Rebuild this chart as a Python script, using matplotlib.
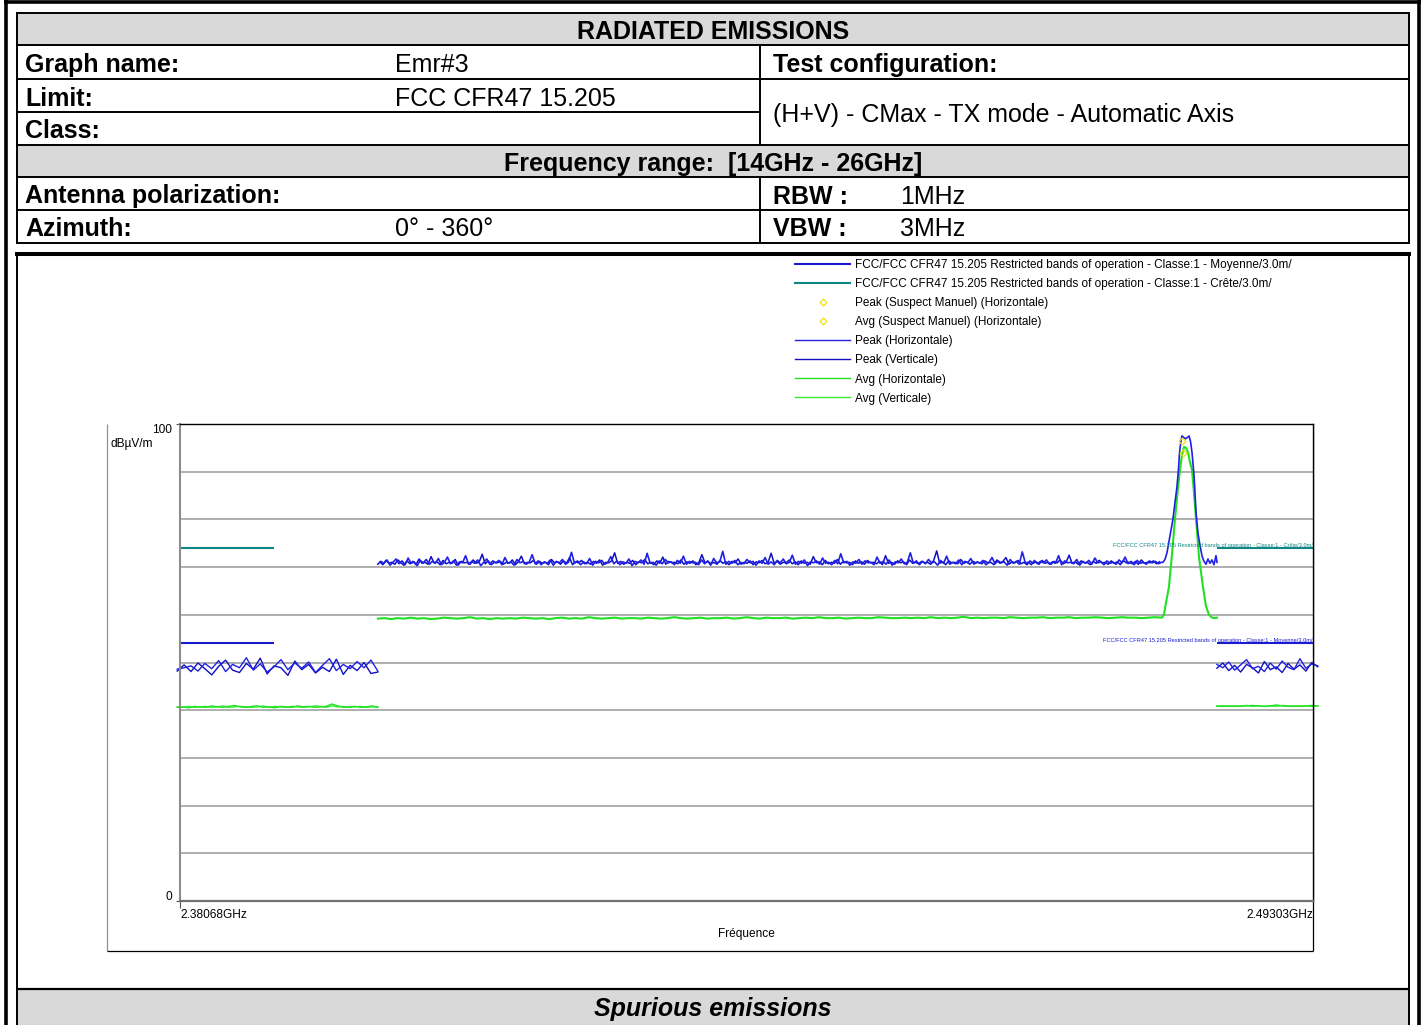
import numpy as np
import matplotlib.pyplot as plt
from matplotlib.patches import Rectangle
from matplotlib.lines import Line2D

plt.rcParams['font.family'] = ['Liberation Sans', 'DejaVu Sans']

# ---------------- data (frequency in GHz, level in dBµV/m) ----------------
f_min, f_max = 2.38068, 2.49303
limit_bands = [(2.38068, 2.39), (2.4835, 2.49303)]
limit_peak = 74.0   # Crête
limit_avg = 54.0    # Moyenne

# lower band edge sweep 2.3804 - 2.4003 GHz
left_span = (2.3804, 2.4003)
peak_h_left = [48.6, 48.9, 49.3, 48.2, 49.8, 48.7, 50.4, 48.1, 49.6, 48.9, 51.0, 48.4, 49.7, 48.0, 49.1,
               50.6, 48.5, 49.9, 48.8, 50.1, 47.9, 49.4, 50.8, 48.3, 49.6, 48.7, 50.2, 48.9, 50.5, 48.2]
peak_v_left = [48.2, 49.5, 48.1, 49.9, 48.7, 47.4, 49.2, 50.5, 48.4, 47.9, 49.8, 48.6, 50.9, 47.6, 49.3,
               48.9, 47.3, 50.3, 48.5, 49.6, 47.8, 49.0, 48.1, 50.7, 47.5, 49.4, 48.3, 50.0, 47.7, 48.0]
avg_h_left = [40.6, 40.7, 40.5, 40.8, 40.7, 40.6, 40.9, 40.7, 40.6, 40.8, 41.0, 40.7, 40.6, 40.8, 40.9, 40.6,
              40.7, 40.5, 40.8, 40.7, 40.6, 40.9, 40.7, 40.8, 40.6, 40.7, 40.8, 41.3, 40.9, 40.6, 40.7, 40.8,
              40.6, 40.7, 40.9, 40.6]
avg_v_left = [40.7, 40.6, 40.8, 40.6, 40.7, 40.8, 40.6, 40.7, 40.9, 40.6, 40.7, 40.8, 40.7, 40.6, 40.7, 40.9,
              40.6, 40.8, 40.7, 40.6, 40.8, 40.7, 40.6, 40.7, 40.9, 40.8, 40.6, 40.9, 40.7, 40.8, 40.6, 40.7,
              40.8, 40.6, 40.7, 40.7]

# in-band sweep 2.4003 - 2.4780 GHz (noise floor before the carrier)
mid_span_h = (2.4003, 2.4780)
mid_span_v = (2.4005, 2.4778)
peak_h_mid = [
    70.6, 71.2, 70.8, 71.5, 70.4, 71.0, 71.7, 70.7, 71.3, 70.5, 71.9, 70.8, 71.1, 70.3, 71.4, 70.9, 71.6, 70.6, 71.2, 70.8,
    71.8, 70.5, 71.0, 72.1, 70.7, 71.3, 70.4, 71.1, 70.9, 72.4, 70.6, 71.2, 70.8, 71.5, 70.3, 71.0, 71.7, 70.6, 71.3, 70.9,
    71.4, 70.5, 72.0, 70.8, 71.1, 70.4, 71.6, 70.9, 71.2, 70.6, 71.0, 72.6, 70.7, 71.3, 70.5, 71.1, 70.8, 71.5, 70.4, 71.2,
    70.9, 71.6, 70.6, 71.0, 73.1, 70.8, 71.3, 70.5, 71.1, 70.7, 71.8, 70.4, 71.2, 70.9, 71.4, 70.6, 71.0, 72.2, 70.7, 71.3,
    70.5, 71.1, 70.8, 71.7, 70.3, 71.2, 70.9, 71.5, 70.6, 72.9, 70.8, 71.0, 70.4, 71.3, 70.7, 71.6, 70.9, 71.1, 70.5, 71.4,
    70.8, 72.3, 70.6, 71.2, 70.9, 71.0, 70.5, 71.5, 70.7, 71.3, 70.4, 71.8, 70.9, 71.1, 73.3, 70.6, 71.2, 70.8, 71.4, 70.5,
    71.0, 70.7, 71.6, 70.9, 71.2, 70.4, 71.3, 70.8, 72.0, 70.6, 71.1, 70.5, 71.4, 70.9, 71.7, 70.7, 71.0, 72.5, 70.6, 71.2,
    70.8, 71.5, 70.3, 71.1, 70.9, 71.3, 70.6, 71.9, 70.8, 71.0, 70.5, 71.4, 70.7, 72.8, 70.9, 71.2, 70.4, 71.1, 70.8, 71.6,
    70.6, 71.3, 70.9, 71.0, 70.5, 72.1, 70.8, 71.2, 70.6, 71.5, 70.4, 71.1, 70.9, 71.7, 70.7, 71.0, 73.0, 70.8, 71.3, 70.5,
    71.2, 70.7, 71.6, 70.9, 71.1, 70.4, 71.4, 70.8, 72.3, 70.6, 71.0, 70.7, 71.5, 70.5, 71.2, 70.9, 71.8, 70.6, 71.1, 70.8,
    71.4, 70.5, 71.0, 72.0, 70.7, 71.3, 70.9, 71.1, 70.4, 71.6, 70.8, 71.2, 70.6, 73.2, 70.9, 71.0, 70.5, 71.4, 70.7, 71.2,
    70.9, 71.5, 70.6, 71.1, 70.8, 72.4, 70.5, 71.3, 70.9, 71.0, 70.7, 71.6, 70.4, 71.2, 70.8, 71.4, 70.6, 71.9, 70.9, 71.1,
    70.5, 71.3, 70.8, 71.0, 70.6, 71.5, 70.9, 72.1, 70.7, 71.2, 70.5, 71.4, 70.8, 71.0, 70.6, 71.3, 70.9, 71.2, 70.7, 71.0]
peak_v_mid = [
    71.1, 70.5, 71.4, 70.8, 71.0, 70.6, 71.5, 70.9, 70.4, 71.3, 70.7, 71.2, 70.5, 71.7, 70.8, 71.0, 70.6, 72.2, 70.9, 71.1,
    70.5, 71.4, 70.7, 71.0, 70.8, 71.6, 70.4, 71.2, 70.9, 71.0, 70.6, 71.5, 70.8, 71.1, 72.7, 70.7, 71.3, 70.5, 71.0, 70.9,
    71.2, 70.6, 71.0, 70.8, 71.5, 70.5, 71.1, 72.3, 70.7, 71.0, 70.9, 71.4, 70.6, 71.2, 70.8, 71.0, 70.5, 71.6, 70.9, 71.1,
    70.6, 71.3, 70.8, 72.0, 70.5, 71.1, 70.9, 71.4, 70.7, 71.0, 70.6, 71.2, 70.8, 71.5, 70.4, 71.0, 70.9, 71.3, 73.0, 70.8,
    71.2, 70.6, 71.0, 70.8, 71.4, 70.5, 71.1, 70.9, 71.6, 70.7, 71.0, 70.5, 71.3, 70.8, 72.1, 70.6, 71.2, 70.9, 71.0, 70.7,
    71.5, 70.6, 71.1, 70.8, 71.3, 70.5, 71.0, 72.6, 70.9, 71.2, 70.7, 71.0, 70.6, 71.4, 70.8, 71.1, 70.5, 71.2, 70.9, 71.7,
    70.6, 71.0, 70.8, 71.3, 70.5, 71.1, 70.9, 71.4, 70.7, 71.0, 72.9, 70.8, 71.2, 70.6, 71.0, 70.9, 71.5, 70.7, 71.1, 70.5,
    71.3, 70.8, 71.0, 70.6, 72.2, 70.9, 71.1, 70.5, 71.4, 70.7, 71.0, 70.8, 71.6, 70.6, 71.2, 70.9, 71.0, 70.5, 71.3, 70.8,
    71.1, 70.6, 71.4, 70.9, 71.0, 70.7, 71.2, 70.5, 72.4, 70.8, 71.0, 70.6, 71.3, 70.9, 71.1, 70.5, 71.5, 70.8, 71.0, 70.7,
    71.2, 70.9, 71.0, 70.6, 71.4, 73.4, 70.8, 71.1, 70.5, 71.3, 70.9, 71.0, 70.7, 71.6, 70.8, 71.1, 70.6, 71.2, 70.9, 71.0,
    70.7, 71.3, 70.9, 71.0, 70.5, 71.5, 70.8, 71.2, 72.0, 70.6, 71.1, 70.9, 71.4, 70.7, 71.0, 70.5, 71.3, 70.8, 71.1, 70.6,
    71.4, 70.8, 71.0, 70.6, 71.2, 70.9, 71.5, 70.7, 71.0, 72.5, 70.8, 71.1, 70.6, 71.3, 70.9, 71.0, 70.5, 71.2, 70.8, 71.4,
    70.9, 71.0, 70.6, 71.3, 70.8, 71.1, 70.5, 71.4, 70.9, 71.0, 70.7, 71.2, 70.6, 71.5, 70.8, 71.0, 70.9, 71.3, 70.7, 71.1]
avg_mid = [
    59.2, 59.3, 59.1, 59.3, 59.2, 59.4, 59.2, 59.3, 59.1, 59.2, 59.4, 59.3, 59.2, 59.3, 59.5, 59.2, 59.3, 59.1, 59.3, 59.2,
    59.3, 59.2, 59.4, 59.3, 59.2, 59.3, 59.1, 59.3, 59.4, 59.2, 59.3, 59.2, 59.5, 59.3, 59.2, 59.3, 59.4, 59.2, 59.3, 59.3,
    59.2, 59.4, 59.3, 59.2, 59.3, 59.5, 59.3, 59.2, 59.3, 59.4, 59.2, 59.3, 59.3, 59.4, 59.2, 59.3, 59.5, 59.3, 59.2, 59.4,
    59.3, 59.3, 59.4, 59.2, 59.3, 59.4, 59.3, 59.5, 59.3, 59.3, 59.4, 59.2, 59.3, 59.4, 59.3, 59.3, 59.5, 59.4, 59.3, 59.3,
    59.4, 59.3, 59.4, 59.3, 59.5, 59.3, 59.4, 59.3, 59.4, 59.6, 59.3, 59.4, 59.3, 59.4, 59.4, 59.3, 59.5, 59.4, 59.3, 59.4,
    59.4, 59.5, 59.3, 59.4, 59.4, 59.5, 59.3, 59.4, 59.4, 59.5, 59.4, 59.3, 59.4, 59.5, 59.4, 59.4, 59.3, 59.4, 59.5, 59.4]

# carrier around 2.480 GHz and end of the in-band sweep
f_carrier_peak = [2.47815, 2.47835, 2.47855, 2.47885, 2.47914, 2.47934, 2.47954, 2.47969, 2.47979, 2.47994,
                  2.48004, 2.48019, 2.48039, 2.48059, 2.48074, 2.48089, 2.48104, 2.48124, 2.48143, 2.48163,
                  2.48183, 2.48203, 2.48222, 2.48242, 2.48261, 2.48281, 2.48301, 2.48321, 2.48341, 2.48351]
peak_carrier = [71.0, 71.6, 73.0, 76.5, 80.0, 83.5, 86.8, 90.5, 93.9, 96.5,
                97.5, 97.2, 96.9, 97.2, 97.5, 96.3, 93.9, 89.0, 81.5, 77.0,
                74.5, 72.3, 71.2, 70.6, 71.7, 70.8, 71.5, 70.5, 72.4, 71.0]
f_carrier_avg = [2.47805, 2.47825, 2.47845, 2.47875, 2.47904, 2.47934, 2.47964, 2.47984, 2.48004, 2.48024,
                 2.48044, 2.48064, 2.48083, 2.48103, 2.48123, 2.48143, 2.48173, 2.48212, 2.48242, 2.48272,
                 2.48302, 2.48331, 2.48351]
avg_carrier = [59.4, 60.0, 62.5, 65.9, 72.5, 80.0, 86.5, 90.4, 93.5, 95.2,
               95.0, 94.0, 92.0, 90.4, 85.5, 80.0, 72.0, 65.9, 61.8, 60.0,
               59.4, 59.3, 59.4]

# upper band edge sweep 2.4835 - 2.4935 GHz
right_span = (2.4835, 2.4935)
peak_h_right = [49.6, 48.9, 50.1, 48.4, 49.5, 50.6, 48.7, 49.2, 48.1, 49.9, 48.6, 50.3, 49.0, 48.5, 50.8, 48.8, 49.7, 49.3]
peak_v_right = [48.8, 49.9, 48.3, 49.4, 48.0, 49.6, 48.9, 47.8, 50.2, 48.5, 49.1, 47.9, 49.8, 48.6, 49.5, 48.2, 50.0, 49.1]
avg_h_right = [40.8, 40.9, 40.8, 40.9, 40.8, 40.9, 41.0, 40.9, 40.8, 40.9, 41.1, 40.9, 40.8, 40.9, 40.8, 40.9, 41.0, 40.9]
avg_v_right = [40.9, 40.8, 40.9, 40.8, 40.9, 41.0, 40.8, 40.9, 40.8, 40.9, 40.8, 41.0, 40.9, 40.8, 40.9, 40.9, 40.8, 40.9]

# suspects
suspect_peak = (2.48000, 96.5)
suspect_avg = (2.48015, 94.0)

# ---------------- styles ----------------
c_peak_h = '#2020e6'
c_peak_v = '#1010c0'
c_avg_h = '#22e022'
c_avg_v = '#33ee33'
c_lim_avg = '#1a1ad0'
c_lim_peak = '#108585'
c_suspect = '#f0e010'
gray = '#d9d9d9'

W, H = 1426, 1025
fig = plt.figure(figsize=(W / 100, H / 100), dpi=100)

# ---------------- report frame (pixel coordinates) ----------------
bg = fig.add_axes([0, 0, 1, 1])
bg.set_xlim(0, W)
bg.set_ylim(H, 0)
bg.axis('off')


def hline(y, x0, x1, lw=1.4, c='black'):
    bg.plot([x0, x1], [y, y], color=c, lw=lw, solid_capstyle='butt')


def vline(x, y0, y1, lw=1.4, c='black'):
    bg.plot([x, x], [y0, y1], color=c, lw=lw, solid_capstyle='butt')


rows = [13, 45, 79, 112, 145, 177, 210, 243]
bg.add_patch(Rectangle((17, rows[0]), 1392, rows[1] - rows[0], color=gray, lw=0))
bg.add_patch(Rectangle((17, rows[4]), 1392, rows[5] - rows[4], color=gray, lw=0))
bg.add_patch(Rectangle((17, 989), 1392, 40, color=gray, lw=0))

# outer border
hline(2, 4, 1421, lw=2.6)
vline(5.5, 0, H, lw=2.6)
vline(1419, 0, H, lw=2.6)

# table grid
for y in rows:
    if y == 112:
        hline(y, 17, 760)
    else:
        hline(y, 16, 1410)
vline(17, rows[0], rows[-1])
vline(1409, rows[0], rows[-1])
vline(760, rows[1], rows[4])
vline(760, rows[5], rows[7])

# chart frame
hline(254, 15, 1411, lw=2.9)
vline(17, 254, H)
vline(1409, 254, H)
hline(989, 17, 1409, lw=1.6)

# graph box
vline(107, 424, 951, lw=0.9, c='#909090')
hline(951, 107, 1313, lw=0.9)
vline(1313, 424, 951, lw=0.9)

fs = 18
def cell(x, y, s, bold=False, ha='left', style='normal'):
    bg.text(x, y, s, fontsize=fs, fontweight='bold' if bold else 'normal', ha=ha, va='center',
            fontstyle=style)


def rc(i):
    return (rows[i] + rows[i + 1]) / 2 + 3


cell(713, rc(0), 'RADIATED EMISSIONS', bold=True, ha='center')
cell(25, rc(1), 'Graph name:', bold=True)
cell(395, rc(1), 'Emr#3')
cell(773, rc(1), 'Test configuration:', bold=True)
cell(25, rc(2), 'Limit:', bold=True)
cell(395, rc(2), 'FCC CFR47 15.205')
cell(25, rc(3), 'Class:', bold=True)
cell(773, (rows[2] + rows[4]) / 2 + 3, '(H+V) - CMax - TX mode - Automatic Axis')
cell(713, rc(4), 'Frequency range:  [14GHz - 26GHz]', bold=True, ha='center')
cell(25, rc(5), 'Antenna polarization:', bold=True)
cell(773, rc(5), 'RBW :', bold=True)
cell(900, rc(5), '1MHz')
cell(25, rc(6), 'Azimuth:', bold=True)
cell(395, rc(6), '0° - 360°')
cell(773, rc(6), 'VBW :', bold=True)
cell(900, rc(6), '3MHz')
cell(713, 1009, 'Spurious emissions', bold=True, ha='center', style='italic')

# ---------------- measurement chart ----------------
ax = fig.add_axes([180 / W, 1 - 901 / H, 1133 / W, 477 / H])
ax.set_xlim(f_min, f_max)
ax.set_ylim(0, 100)

ax.set_yticks([0, 100])
ax.set_yticklabels([])
ax.set_yticks(np.arange(10, 100, 10), minor=True)
ax.grid(which='minor', axis='y', color='#a8a8a8', lw=1.3)
ax.tick_params(axis='y', which='major', length=3, width=0.8, color='#555555')
ax.tick_params(axis='y', which='minor', length=0)
ytr = ax.get_yaxis_transform()
ax.text(-0.007, 98.7, '100', transform=ytr, fontsize=8.6, ha='right', va='center')
ax.text(-0.007, 0.9, '0', transform=ytr, fontsize=8.6, ha='right', va='center')
ax.text(-0.061, 95.8, 'dBµV/m', transform=ytr, fontsize=8.6, ha='left', va='center')

ax.set_xticks([f_min, f_max])
ax.set_xticklabels(['2.38068GHz', '2.49303GHz'], fontsize=8.6)
xlabels = ax.get_xticklabels()
xlabels[0].set_ha('left')
xlabels[1].set_ha('right')
ax.tick_params(axis='x', length=5, width=0.8, pad=1, color='#555555')
ax.xaxis.get_major_ticks()[1].tick1line.set_visible(False)
ax.set_xlabel('Fréquence', fontsize=8.6, labelpad=5)

ax.spines['left'].set_color('#8c8c8c')
ax.spines['left'].set_linewidth(1.5)
ax.spines['bottom'].set_color('#707070')
ax.spines['bottom'].set_linewidth(1.6)
ax.spines['top'].set_linewidth(1.0)
ax.spines['right'].set_linewidth(1.0)

# limits
for f0, f1 in limit_bands:
    ax.plot([f0, f1], [limit_peak, limit_peak], color=c_lim_peak, lw=1.5, solid_capstyle='butt')
    ax.plot([f0, f1], [limit_avg, limit_avg], color=c_lim_avg, lw=1.5, solid_capstyle='butt')

# traces
fl_peak = np.linspace(*left_span, len(peak_h_left))
fl_avg = np.linspace(*left_span, len(avg_h_left))
fm_h = np.linspace(*mid_span_h, len(peak_h_mid))
fm_v = np.linspace(*mid_span_v, len(peak_v_mid))
fm_avg = np.linspace(*mid_span_h, len(avg_mid))
fr = np.linspace(*right_span, len(peak_h_right))

kw = dict(lw=1.0, clip_on=False)
ax.plot(fl_avg, avg_v_left, color=c_avg_v, **kw)
ax.plot(fl_avg, avg_h_left, color=c_avg_h, **kw)
ax.plot(fr, avg_v_right, color=c_avg_v, **kw)
ax.plot(fr, avg_h_right, color=c_avg_h, **kw)
ax.plot(np.concatenate([fm_avg, f_carrier_avg]), avg_mid + avg_carrier, color=c_avg_h, lw=1.5, clip_on=False)

ax.plot(fl_peak, peak_v_left, color=c_peak_v, **kw)
ax.plot(fl_peak, peak_h_left, color=c_peak_h, **kw)
ax.plot(fr, peak_v_right, color=c_peak_v, **kw)
ax.plot(fr, peak_h_right, color=c_peak_h, **kw)
ax.plot(fm_v, peak_v_mid, color=c_peak_v, lw=1.1, clip_on=False)
ax.plot(np.concatenate([fm_h, f_carrier_peak]), peak_h_mid + peak_carrier, color=c_peak_h, lw=1.2, clip_on=False)

ax.plot(*suspect_peak, marker='D', ms=3.5, mfc='none', mec=c_suspect, mew=0.9, ls='none')
ax.plot(*suspect_avg, marker='D', ms=3.5, mfc='none', mec=c_suspect, mew=0.9, ls='none')

lim_txt = 'FCC/FCC CFR47 15.205 Restricted bands of operation - Classe:1 - '
ax.text(f_max, limit_peak + 0.6, lim_txt + 'Crête/3.0m/', fontsize=4.1, color=c_lim_peak, ha='right', va='center')
ax.text(f_max, limit_avg + 0.6, lim_txt + 'Moyenne/3.0m/', fontsize=4.1, color=c_lim_avg, ha='right', va='center')

# legend
handles = [
    Line2D([], [], color=c_lim_avg, lw=1.5),
    Line2D([], [], color=c_lim_peak, lw=1.5),
    Line2D([], [], ls='none', marker='D', ms=3.5, mfc='none', mec=c_suspect, mew=0.9),
    Line2D([], [], ls='none', marker='D', ms=3.5, mfc='none', mec=c_suspect, mew=0.9),
    Line2D([], [], color=c_peak_h, lw=1.0),
    Line2D([], [], color=c_peak_v, lw=1.0),
    Line2D([], [], color=c_avg_h, lw=1.0),
    Line2D([], [], color=c_avg_v, lw=1.0),
]
labels = [
    lim_txt + 'Moyenne/3.0m/',
    lim_txt + 'Crête/3.0m/',
    'Peak (Suspect Manuel) (Horizontale)',
    'Avg (Suspect Manuel) (Horizontale)',
    'Peak (Horizontale)',
    'Peak (Verticale)',
    'Avg (Horizontale)',
    'Avg (Verticale)',
]
fig.legend(handles, labels, loc='upper left', bbox_to_anchor=(795 / W, 1 - 259 / H),
           bbox_transform=fig.transFigure, frameon=False, fontsize=8.5, handlelength=4.66,
           handletextpad=0.42, labelspacing=0.6, borderpad=0, borderaxespad=0, numpoints=1)

fig.savefig('out.png', dpi=100)
